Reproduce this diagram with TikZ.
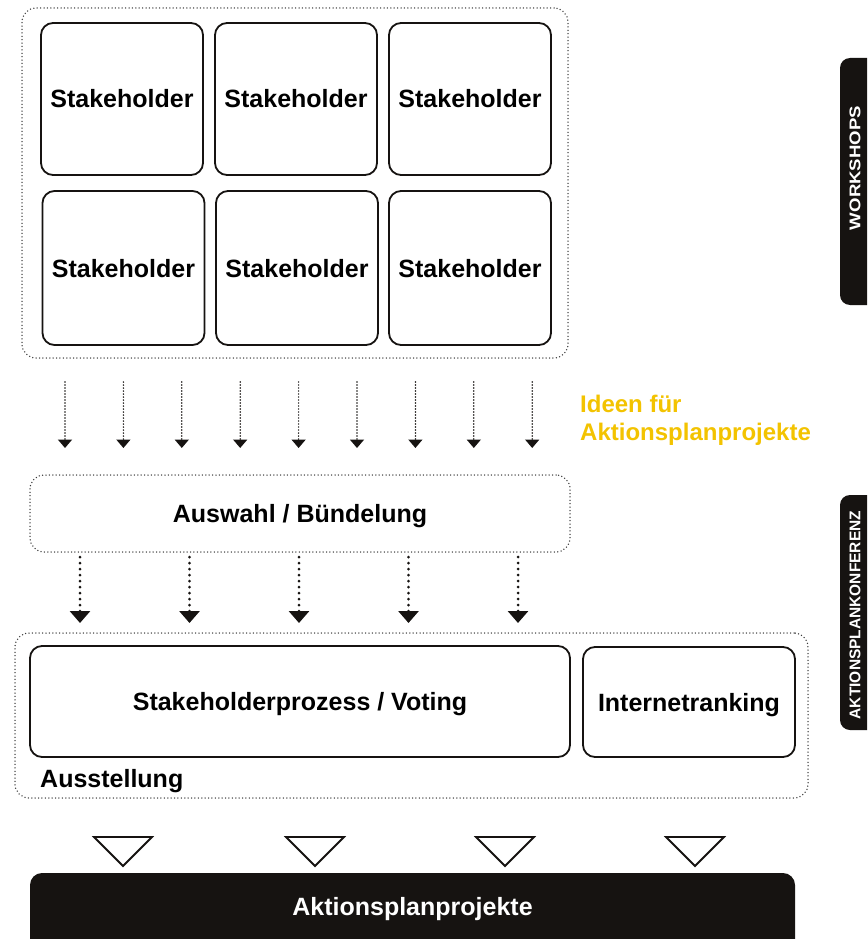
\documentclass[tikz,border=0pt]{standalone}
\usepackage{fontspec}
\setmainfont{Liberation Sans}
\usetikzlibrary{arrows.meta}
\definecolor{ink}{RGB}{22,19,17}
\definecolor{dotgray}{RGB}{60,60,60}
\definecolor{ideayellow}{RGB}{243,195,0}
\begin{document}
\begin{tikzpicture}[x=1pt,y=-1pt,
  bigtext/.style={font=\fontsize{25}{30}\selectfont\bfseries, text height=18pt, text depth=0pt},
  solidbox/.style={draw=ink, line width=1.8pt, rounded corners=12pt, inner sep=0pt, bigtext},
  dotbox/.style={draw=dotgray, line width=1.5pt, dash pattern=on 0pt off 3.4pt, line cap=round, rounded corners=14pt, inner sep=0pt},
  fineflow/.style={draw=ink, line width=1.7pt, dash pattern=on 0pt off 3pt, line cap=round, -{Triangle[width=14pt,length=8.5pt]}},
  boldflow/.style={draw=ink, line width=3pt, dash pattern=on 0pt off 6pt, line cap=round, -{Triangle[width=20pt,length=12pt]}},
  outflow/.style={draw=ink, line width=1.8pt, fill=white, line join=miter},
  sidebar/.style={fill=ink, rounded corners=10pt, inner sep=0pt, minimum width=44pt},
  sidetext/.style={text=white, font=\fontsize{15.5}{18}\selectfont\bfseries, rotate=90, inner sep=0pt},
  resultbar/.style={fill=ink, rounded corners=12pt, inner sep=0pt, text=white, bigtext, text depth=14pt}
]
\useasboundingbox (0,0) rectangle (867,939);
\clip (0,0) rectangle (867,939);
\fill[white] (0,0) rectangle (867,939);

% workshop group with six stakeholder boxes
\node[dotbox, minimum width=546pt, minimum height=350pt] (wsgroup) at (295,183) {};
\node[solidbox, minimum width=162pt, minimum height=152pt] (sh1) at (122,99) {Stakeholder};
\node[solidbox, minimum width=162pt, minimum height=152pt] (sh2) at (296,99) {Stakeholder};
\node[solidbox, minimum width=162pt, minimum height=152pt] (sh3) at (470,99) {Stakeholder};
\node[solidbox, minimum width=162pt, minimum height=154pt] (sh4) at (123.5,268) {Stakeholder};
\node[solidbox, minimum width=162pt, minimum height=154pt] (sh5) at (297,268) {Stakeholder};
\node[solidbox, minimum width=162pt, minimum height=154pt] (sh6) at (470,268) {Stakeholder};

% ideas flowing into the selection
\foreach \i in {0,...,8} {
  \coordinate (idea-top-\i) at (65+58.4*\i,382);
  \coordinate (idea-tip-\i) at (65+58.4*\i,448);
  \draw[fineflow] (idea-top-\i) -- (idea-tip-\i);
}
\node[anchor=base west, align=left, text=ideayellow, inner sep=0pt,
      font=\fontsize{24}{28}\selectfont\bfseries] (ideas) at (580,440)
  {Ideen für\\Aktionsplanprojekte};

% selection / bundling
\node[dotbox, bigtext, minimum width=540pt, minimum height=77pt] (select) at (300,513.5) {Auswahl / Bündelung};

\foreach \i in {0,...,4} {
  \coordinate (sel-top-\i) at (80+109.5*\i,557);
  \coordinate (sel-tip-\i) at (80+109.5*\i,623);
  \draw[boldflow] (sel-top-\i) -- (sel-tip-\i);
}

% exhibition group
\node[dotbox, minimum width=793pt, minimum height=165pt] (expo) at (411.5,715.5) {};
\node[solidbox, minimum width=540pt, minimum height=111pt] (voting) at (300,701.5) {Stakeholderprozess / Voting};
\node[solidbox, minimum width=212pt, minimum height=110pt] (ranking) at (689,702) {Internetranking};
\node[anchor=base west, inner sep=0pt, font=\fontsize{25}{30}\selectfont\bfseries] (expolabel) at (40,787) {Ausstellung};

% open triangles towards the result
\foreach \x in {123,315,505,695} {
  \draw[outflow] (\x-29,837) -- (\x+29,837) -- (\x,866) -- cycle;
}

% result bar
\node[resultbar, minimum width=765pt, minimum height=80pt] (result) at (412.5,913) {Aktionsplanprojekte};

% phase labels on the right edge
\node[sidebar, minimum height=247pt] (wsbar) at (862,181.5) {};
\node[sidetext] (wslabel) at (855,168) {\scalebox{1.2}[1]{WORKSHOPS}};
\node[sidebar, minimum height=235pt] (apkbar) at (862,612.5) {};
\node[sidetext] (apklabel) at (855,615) {AKTIONSPLANKONFERENZ};
\end{tikzpicture}
\end{document}
